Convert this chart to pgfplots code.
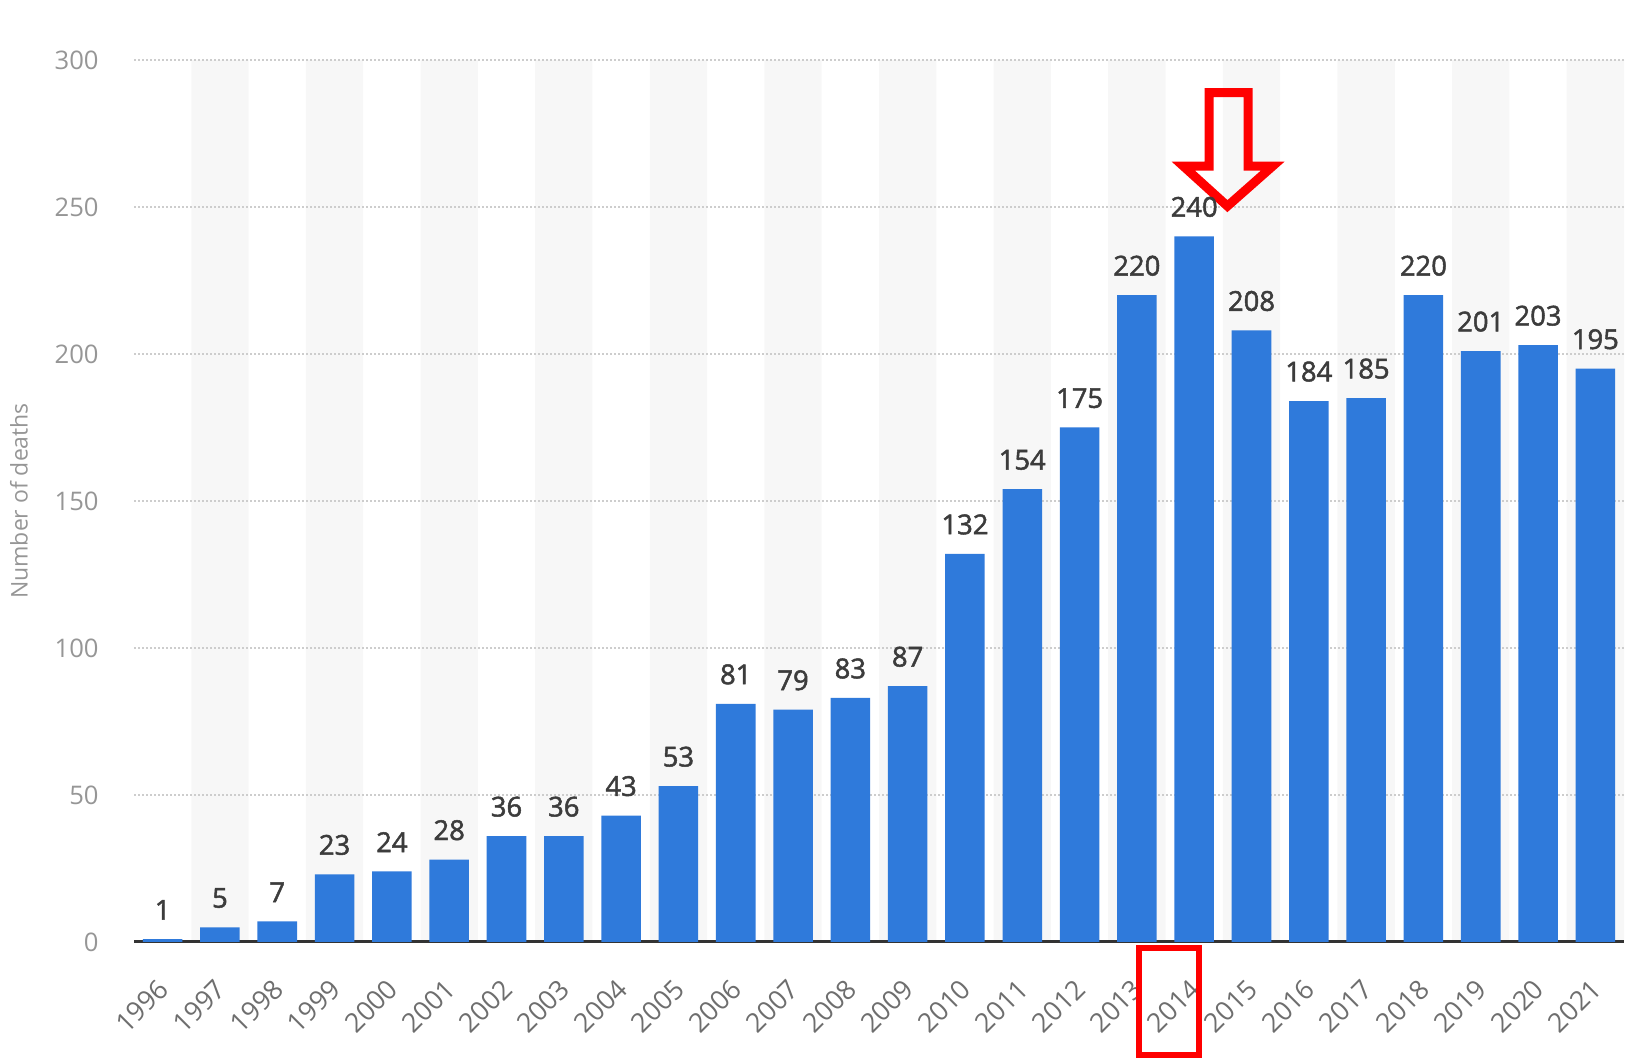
\documentclass[border=0pt]{standalone}
\usepackage{pgfplots}
\pgfplotsset{compat=1.18}
\usepackage{fontspec}
\setmainfont{Open Sans}
\newfontfamily\lblfont{Open Sans}[FakeBold=1.8]
\definecolor{barblue}{RGB}{47,122,219}
\definecolor{bandgray}{RGB}{247,247,247}
\definecolor{gridc}{RGB}{205,205,205}
\definecolor{ytickc}{RGB}{150,150,150}
\definecolor{xtickc}{RGB}{110,110,110}
\definecolor{lblc}{RGB}{60,60,60}
\definecolor{axc}{RGB}{51,51,51}
\definecolor{annred}{RGB}{255,0,0}
\begin{document}
\begin{tikzpicture}
\begin{axis}[
  name=ax,
  at={(0,0)}, anchor=south west,
  scale only axis,
  width=745pt, height=441pt,
  xmin=-0.5, xmax=25.5, ymin=0, ymax=300,
  set layers,
  clip=false,
  /pgf/number format/assume math mode=true,
  axis x line*=bottom, axis y line*=left,
  y axis line style={draw=none},
  x axis line style={draw=axc, line width=1.5pt},
  ytick={0,50,100,150,200,250,300},
  xtick={0,...,25},
  xticklabels={1996,1997,1998,1999,2000,2001,2002,2003,2004,2005,2006,2007,2008,2009,2010,2011,2012,2013,2014,2015,2016,2017,2018,2019,2020,2021},
  major tick length=0pt,
  ymajorgrids,
  grid style={draw=gridc, line width=0.8pt, dash pattern=on 1pt off 1pt},
  yticklabel style={font=\fontsize{12.8}{13}\selectfont, color=ytickc, inner sep=0pt, anchor=east, xshift=-17.5pt},
  xticklabel style={font=\fontsize{13.4}{13.5}\selectfont, color=xtickc, inner sep=0pt, xshift=-3pt, yshift=-17.5pt, rotate=45, anchor=north east},
  ylabel={Number of deaths},
  every axis y label/.style={at={(axis description cs:-0.0772,0.5)}, rotate=90, anchor=center, font=\fontsize{11.5}{12}\selectfont, color=ytickc},
]
\addplot[ybar, bar shift=0pt, bar width=1, fill=bandgray, draw=none, on layer=axis background]
  coordinates {(1,300)(3,300)(5,300)(7,300)(9,300)(11,300)(13,300)(15,300)(17,300)(19,300)(21,300)(23,300)(25,300)};
\addplot[ybar, bar shift=0pt, bar width=0.69, fill=barblue, draw=none,
  nodes near coords,
  nodes near coords style={font=\lblfont\fontsize{13.7}{14}\selectfont, color=lblc, inner sep=0pt, anchor=south, yshift=9.5pt}]
  coordinates {
  (0,1)(1,5)(2,7)(3,23)(4,24)(5,28)(6,36)(7,36)(8,43)(9,53)
  (10,81)(11,79)(12,83)(13,87)(14,132)(15,154)(16,175)(17,220)(18,240)(19,208)
  (20,184)(21,185)(22,220)(23,201)(24,203)(25,195)};
\draw[annred, line width=4.5pt, line join=miter]
  (axis cs:18.26,288.9) -- (axis cs:18.94,288.9) -- (axis cs:18.94,263.9) -- (axis cs:19.37,263.9)
  -- (axis cs:18.58,250.3) -- (axis cs:17.81,263.9) -- (axis cs:18.26,263.9) -- cycle;
\draw[annred, line width=3pt] (axis cs:17.03,-2.0) rectangle (axis cs:18.09,-38.4);
\end{axis}
\pgfresetboundingbox
\path[use as bounding box] ([shift={(-67pt,-58pt)}]ax.south west) rectangle ([shift={(752.5pt,471pt)}]ax.south west);
\end{tikzpicture}
\end{document}
